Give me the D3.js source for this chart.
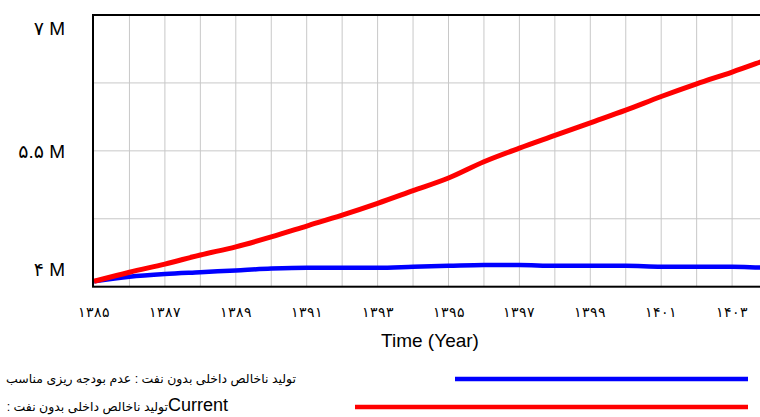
<!DOCTYPE html>
<html lang="fa">
<head>
    <meta charset="UTF-8">
    <title>GDP without oil</title>
    <script src="https://d3js.org/d3.v7.min.js"></script>
    <style>
        body { margin: 0; background: #fff; }
        text { font-family: "Liberation Sans", Arial, "DejaVu Sans", sans-serif; fill: #000; }
    </style>
</head>
<body>
    <div id="chart"></div>
    <script>
        // Data (values in millions)
        const years = [1385, 1386, 1387, 1388, 1389, 1390, 1391, 1392, 1393, 1394, 1395,
                       1396, 1397, 1398, 1399, 1400, 1401, 1402, 1403, 1404, 1405];
        const currentValues = [4.06, 4.16, 4.25, 4.35, 4.44, 4.55, 4.67, 4.79, 4.92, 5.06, 5.20,
                               5.38, 5.53, 5.67, 5.81, 5.95, 6.10, 6.24, 6.37, 6.51, 6.65];
        const noBudgetValues = [4.06, 4.11, 4.14, 4.16, 4.18, 4.20, 4.21, 4.21, 4.21, 4.22, 4.23,
                                4.24, 4.24, 4.23, 4.23, 4.23, 4.22, 4.22, 4.22, 4.21, 4.21];
        const yTickValues = [4, 5.5, 7];
        const yTickLabels = ["۴ M", "۵.۵ M", "۷ M"];
        const xTickValues = [1385, 1387, 1389, 1391, 1393, 1395, 1397, 1399, 1401, 1403];
        const legendLabel1 = "تولید ناخالص داخلی بدون نفت : عدم بودجه ریزی مناسب";
        const legendRun = "Current";
        const legendLabel2 = "تولید ناخالص داخلی بدون نفت :";
        const seriesColors = ["#0000ff", "#ff0000"];

        const width = 760, height = 417;
        const plot = {left: 94, top: 15, bottom: 286.7};

        const svg = d3.select("#chart").append("svg")
            .attr("width", width)
            .attr("height", height);

        const x = d3.scaleLinear().domain([1385, 1405]).range([plot.left, plot.left + 20 * 35.45]);
        const y = d3.scaleLinear().domain([4, 7]).range([plot.bottom, plot.top]);

        const persian = s => String(s).replace(/[0-9]/g, c => "۰۱۲۳۴۵۶۷۸۹"[+c]);

        // grid
        svg.append("g")
            .selectAll("line")
            .data(years.slice(1))
            .enter().append("line")
            .attr("x1", d => x(d)).attr("x2", d => x(d))
            .attr("y1", plot.top).attr("y2", plot.bottom)
            .attr("stroke", "#c8c8c8").attr("stroke-width", 1);

        svg.append("g")
            .selectAll("line")
            .data([4.75, 5.5, 6.25])
            .enter().append("line")
            .attr("x1", plot.left).attr("x2", x(1405))
            .attr("y1", d => y(d)).attr("y2", d => y(d))
            .attr("stroke", "#c8c8c8").attr("stroke-width", 1);

        // series
        const line = d3.line()
            .x((d, i) => x(years[i]))
            .y(d => y(d))
            .curve(d3.curveMonotoneX);

        svg.append("path")
            .datum(noBudgetValues)
            .attr("fill", "none")
            .attr("stroke", seriesColors[0])
            .attr("stroke-width", 4.5)
            .attr("d", line);

        svg.append("path")
            .datum(currentValues)
            .attr("fill", "none")
            .attr("stroke", seriesColors[1])
            .attr("stroke-width", 5)
            .attr("d", line);

        // frame
        svg.append("rect")
            .attr("x", plot.left - 1)
            .attr("y", plot.top)
            .attr("width", x(1405) - plot.left + 1)
            .attr("height", plot.bottom - plot.top)
            .attr("fill", "none")
            .attr("stroke", "#000")
            .attr("stroke-width", 2);

        // y labels (top and bottom are nudged inside, like the source tool)
        const yNudge = [-17, 0, 13];
        svg.append("g")
            .selectAll("text")
            .data(yTickValues)
            .enter().append("text")
            .attr("x", 65)
            .attr("y", (d, i) => y(d) + yNudge[i])
            .attr("dy", "0.35em")
            .attr("text-anchor", "end")
            .style("font-size", "19px")
            .text((d, i) => yTickLabels[i]);

        // x labels
        svg.append("g")
            .selectAll("text")
            .data(xTickValues)
            .enter().append("text")
            .attr("x", d => x(d))
            .attr("y", 312)
            .attr("dy", "0.35em")
            .attr("text-anchor", "middle")
            .style("font-size", "14px")
            .style("font-weight", "300")
            .text(d => persian(d));

        svg.append("text")
            .attr("x", 430)
            .attr("y", 340)
            .attr("dy", "0.35em")
            .attr("text-anchor", "middle")
            .style("font-size", "19px")
            .text("Time (Year)");

        // legend
        svg.append("line")
            .attr("x1", 455).attr("x2", 748)
            .attr("y1", 379).attr("y2", 379)
            .attr("stroke", seriesColors[0])
            .attr("stroke-width", 4.5);
        const t1 = svg.append("text")
            .attr("x", 296)
            .attr("y", 379)
            .attr("dy", "0.35em")
            .attr("direction", "rtl")
            .style("font-size", "15px")
            .text(legendLabel1);
        // shrink the label until it spans the same width as in the source
        const w1 = t1.node().getComputedTextLength();
        const legendSize = Math.min(15, 15 * 290 / w1);
        t1.style("font-size", legendSize.toFixed(2) + "px");

        svg.append("line")
            .attr("x1", 355).attr("x2", 748)
            .attr("y1", 407).attr("y2", 407)
            .attr("stroke", seriesColors[1])
            .attr("stroke-width", 4.5);
        const t2 = svg.append("text")
            .attr("x", 228)
            .attr("y", 407)
            .attr("dy", "0.35em")
            .attr("direction", "rtl")
            .style("font-size", legendSize.toFixed(2) + "px");
        t2.append("tspan").style("font-size", "18px").text(legendRun);
        t2.append("tspan").text(legendLabel2);
    </script>
</body>
</html>
